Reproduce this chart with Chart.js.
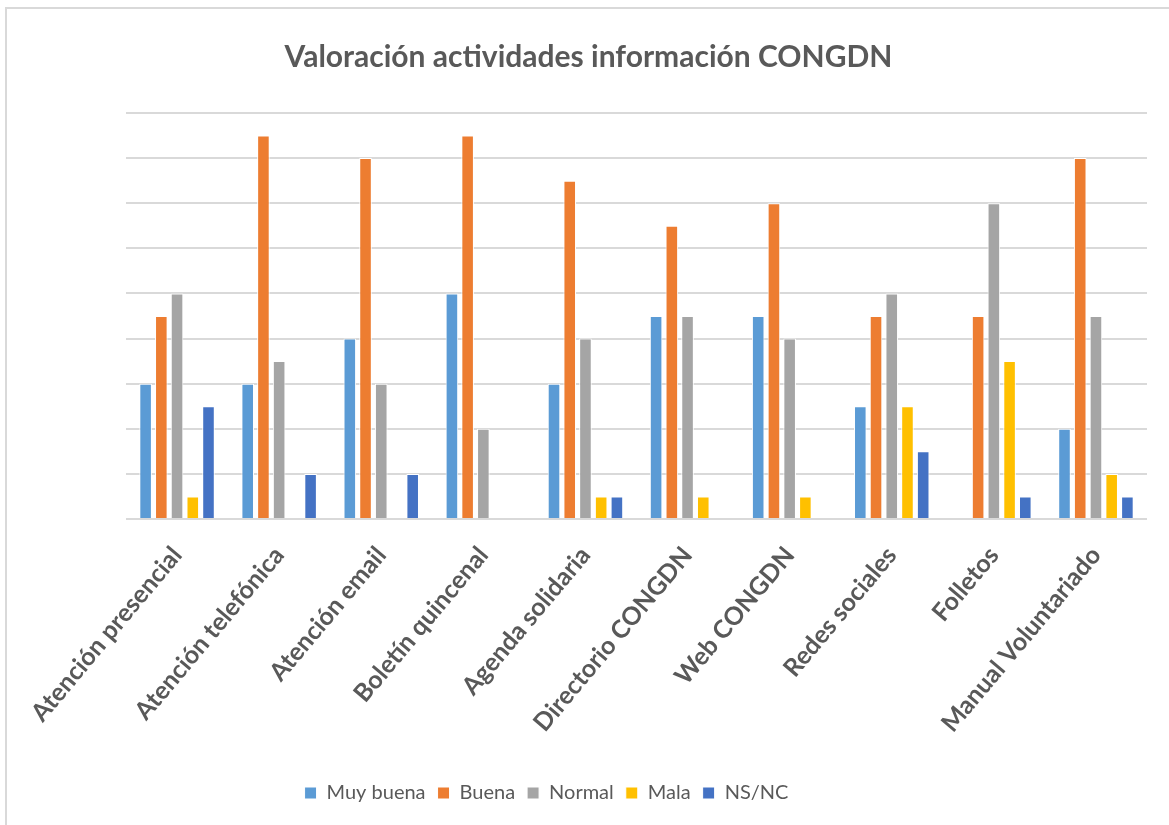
<!DOCTYPE html>
<html>
<head>
<meta charset="utf-8">
<script src="https://cdn.jsdelivr.net/npm/chart.js@4"></script>
<style>
html,body{margin:0;padding:0;background:#fff;}
#wrap{position:relative;width:1169px;height:825px;}
#frame{position:absolute;left:5px;top:7px;right:-5px;bottom:-5px;border:2px solid #d9d9d9;box-sizing:border-box;}
canvas{position:absolute;left:0;top:0;}
</style>
</head>
<body>
<div id="wrap"><div id="frame"></div><canvas id="c" width="1169" height="825"></canvas></div>
<script>
const categories = ["Atención presencial","Atención telefónica","Atención email","Boletín quincenal","Agenda solidaria","Directorio CONGDN","Web CONGDN","Redes sociales","Folletos","Manual Voluntariado"];
const seriesNames = ["Muy buena","Buena","Normal","Mala","NS/NC"];
const muyBuena = [6, 6, 8, 10, 6, 9, 9, 5, 0, 4];
const buena    = [9, 17, 16, 17, 15, 13, 14, 9, 9, 16];
const normal   = [10, 7, 6, 4, 8, 9, 8, 10, 14, 9];
const mala     = [1, 0, 0, 0, 1, 1, 1, 5, 7, 2];
const nsnc     = [5, 2, 2, 0, 1, 0, 0, 3, 1, 1];
const colors = ["#5b9bd5","#ed7d31","#a5a5a5","#ffc000","#4472c4"];
const values = [muyBuena, buena, normal, mala, nsnc];

const FONT = "Lato, 'Open Sans', sans-serif";

// shift legend to the left to match the reference's placement
const legendShift = {
  id: 'legendShift',
  afterLayout(chart) {
    const lg = chart.legend;
    if (lg) { lg.left -= 42; lg.right -= 42; }
  }
};

new Chart(document.getElementById('c'), {
  type: 'bar',
  data: {
    labels: categories,
    datasets: seriesNames.map((n, i) => ({
      label: n,
      data: values[i],
      backgroundColor: colors[i],
      borderColor: '#ffffff',
      borderWidth: 1,
      categoryPercentage: 0.77,
      barPercentage: 0.8
    }))
  },
  plugins: [legendShift],
  options: {
    responsive: false,
    animation: false,
    layout: { padding: { left: 30, right: 22, top: 39, bottom: 12 } },
    plugins: {
      title: {
        display: true,
        text: 'Valoración actividades información CONGDN',
        color: '#595959',
        font: { family: FONT, size: 30, weight: 'bold' },
        padding: { top: 0, bottom: 38 }
      },
      legend: {
        position: 'bottom',
        labels: {
          color: '#595959',
          font: { family: FONT, size: 20 },
          boxWidth: 12, boxHeight: 12,
          padding: 12
        }
      },
      tooltip: { enabled: false }
    },
    scales: {
      x: {
        grid: { display: false },
        border: { display: false },
        afterFit: (s) => { s.height = 252; },
        ticks: {
          color: '#595959',
          font: { family: FONT, size: 25, weight: 'bold' },
          maxRotation: 50, minRotation: 50,
          autoSkip: false, padding: 14
        }
      },
      y: {
        min: 0, max: 18,
        afterFit: (s) => { s.width = 96; },
        ticks: { display: false, stepSize: 2 },
        border: { display: false },
        grid: { color: '#d9d9d9', lineWidth: 2, drawTicks: false }
      }
    }
  }
});
</script>
</body>
</html>
